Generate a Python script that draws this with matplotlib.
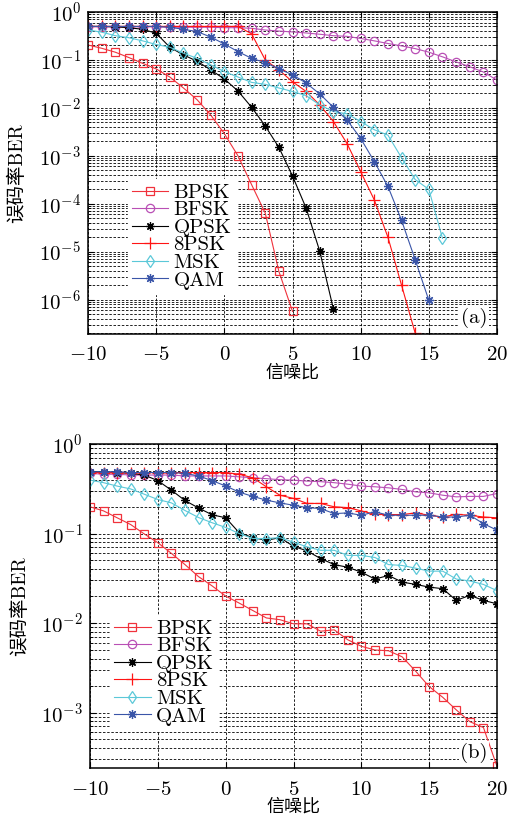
import matplotlib
matplotlib.use('Agg')
import matplotlib.pyplot as plt
from matplotlib.ticker import LogLocator, NullFormatter

# fonts: Computer Modern for latin/numbers, Noto CJK for the chinese labels
plt.rcParams['font.family'] = ['cmr10', 'Noto Sans CJK SC']
plt.rcParams['mathtext.fontset'] = 'cm'
plt.rcParams['axes.formatter.use_mathtext'] = True
plt.rcParams['font.size'] = 15

snr = list(range(-10, 21))
labels = ['BPSK', 'BFSK', 'QPSK', '8PSK', 'MSK', 'QAM']

# ---- panel (a) ----
bpsk_a = [0.205, 0.175, 0.145, 0.112, 0.085, 0.065, 0.044, 0.026, 0.0148, 0.0071,
          0.0029, 0.001, 2.5e-4, 6.4e-5, 3.9e-6, 5.7e-7]
bfsk_a = [0.49, 0.49, 0.49, 0.49, 0.49, 0.49, 0.48, 0.48, 0.48, 0.48, 0.47, 0.47,
          0.457, 0.42, 0.40, 0.383, 0.365, 0.343, 0.32, 0.31, 0.28, 0.25, 0.22,
          0.196, 0.172, 0.145, 0.116, 0.091, 0.072, 0.056, 0.038]
qpsk_a = [0.5, 0.5, 0.49, 0.47, 0.435, 0.36, 0.184, 0.127, 0.094, 0.062, 0.04,
          0.0225, 0.0103, 0.0042, 0.0015, 3.8e-4, 8.1e-5, 1.02e-5, 6.4e-7]
psk8_a = [0.5, 0.5, 0.5, 0.5, 0.5, 0.5, 0.5, 0.5, 0.5, 0.5, 0.5, 0.5, 0.35, 0.1,
          0.062, 0.035, 0.022, 0.0115, 0.0052, 0.0018, 4.7e-4, 1.2e-4, 2.0e-5,
          2.0e-6, 2.0e-7]
msk_a = [0.42, 0.38, 0.32, 0.29, 0.25, 0.21, 0.184, 0.138, 0.108, 0.079, 0.057,
         0.044, 0.034, 0.031, 0.026, 0.022, 0.018, 0.0115, 0.0084, 0.0075, 0.0052,
         0.0035, 0.0027, 9.1e-4, 3.2e-4, 2.0e-4, 1.9e-5]
qam_a = [0.5, 0.5, 0.5, 0.5, 0.5, 0.5, 0.48, 0.435, 0.39, 0.30, 0.215, 0.149,
         0.108, 0.088, 0.065, 0.049, 0.033, 0.0195, 0.0103, 0.0056, 0.0023,
         7.6e-4, 2.3e-4, 4.5e-5, 6.8e-6, 9.7e-7]

# ---- panel (b) ----
bpsk_b = [0.199, 0.179, 0.15, 0.126, 0.099, 0.079, 0.060, 0.045, 0.033, 0.026,
          0.020, 0.0167, 0.0138, 0.0114, 0.0109, 0.0098, 0.0098, 0.0081, 0.0084,
          0.0065, 0.0055, 0.0050, 0.0049, 0.0042, 0.0029, 0.00195, 0.00148,
          0.00107, 7.9e-4, 6.8e-4, 2.5e-4]
bfsk_b = [0.47, 0.46, 0.46, 0.45, 0.45, 0.45, 0.45, 0.44, 0.44, 0.44, 0.44, 0.43,
          0.42, 0.41, 0.40, 0.395, 0.385, 0.38, 0.37, 0.356, 0.339, 0.333, 0.324,
          0.311, 0.292, 0.285, 0.268, 0.257, 0.26, 0.26, 0.28]
qpsk_b = [0.49, 0.49, 0.48, 0.47, 0.45, 0.39, 0.305, 0.234, 0.193, 0.162, 0.150,
          0.102, 0.090, 0.084, 0.090, 0.072, 0.064, 0.0525, 0.045, 0.042, 0.037,
          0.031, 0.034, 0.0287, 0.027, 0.0252, 0.0242, 0.0179, 0.0204, 0.0179, 0.0164]
psk8_b = [0.48, 0.48, 0.48, 0.48, 0.48, 0.48, 0.48, 0.48, 0.48, 0.48, 0.48, 0.46,
          0.42, 0.333, 0.268, 0.247, 0.217, 0.217, 0.199, 0.195, 0.179, 0.164,
          0.163, 0.163, 0.170, 0.160, 0.153, 0.164, 0.160, 0.153, 0.150]
msk_b = [0.395, 0.37, 0.339, 0.315, 0.275, 0.24, 0.22, 0.181, 0.151, 0.132, 0.117,
         0.10, 0.088, 0.088, 0.090, 0.080, 0.071, 0.065, 0.065, 0.057, 0.057, 0.054,
         0.045, 0.044, 0.041, 0.038, 0.038, 0.031, 0.0295, 0.027, 0.023]
qam_b = [0.49, 0.49, 0.49, 0.48, 0.48, 0.48, 0.48, 0.47, 0.44, 0.39, 0.34, 0.29,
         0.26, 0.236, 0.22, 0.207, 0.195, 0.19, 0.167, 0.17, 0.160, 0.175, 0.160,
         0.160, 0.16, 0.16, 0.153, 0.153, 0.16, 0.129, 0.109]

# styles (color, marker, markersize) in legend order
styles = [('#F0323C', 's', 6),
          ('#B94FB5', 'o', 6),
          ('black', (8, 2, 0), 6),
          ('#FF1414', '+', 8),
          ('#5BC8D8', 'd', 6.5),
          ('#3A55A8', (8, 2, 0), 6.5)]


def draw(ax, series, ylim, tag, tag_pos, leg_anchor):
    for vals, lab, (col, mk, ms) in zip(series, labels, styles):
        ax.plot(snr[:len(vals)], vals, color=col, marker=mk, ms=ms, lw=0.8,
                mfc='none', mec=col, mew=0.9, label=lab)
    ax.set_yscale('log')
    ax.set_xlim(-10, 20)
    ax.set_ylim(*ylim)
    ax.set_xticks([-10, -5, 0, 5, 10, 15, 20])
    ax.yaxis.set_major_locator(LogLocator(base=10, numticks=20))
    ax.yaxis.set_minor_locator(LogLocator(base=10, subs=range(2, 10), numticks=20))
    ax.yaxis.set_minor_formatter(NullFormatter())
    ax.grid(True, which='major', ls=(0, (3, 2)), color='black', lw=0.6)
    ax.grid(True, which='minor', axis='y', ls=(0, (3, 2)), color='black', lw=0.6)
    ax.tick_params(which='both', direction='in', top=True, right=True)
    ax.tick_params(which='major', length=4)
    ax.tick_params(which='minor', length=2)
    ax.tick_params(axis='x', pad=9)
    ax.tick_params(axis='y', pad=5)
    for sp in ax.spines.values():
        sp.set_linewidth(1.1)
    ax.set_xlabel('信噪比', fontsize=13, labelpad=0)
    ax.set_ylabel('误码率BER', fontsize=14, labelpad=9)
    leg = ax.legend(loc='upper left', bbox_to_anchor=leg_anchor, borderaxespad=0,
                    handlelength=1.75, handletextpad=0.25, labelspacing=-0.05,
                    borderpad=0.2, fancybox=False, framealpha=1, fontsize=15)
    leg.get_frame().set_edgecolor('white')
    ax.text(tag_pos[0], tag_pos[1], tag, transform=ax.transAxes, ha='center',
            va='center', fontsize=15,
            bbox=dict(facecolor='white', edgecolor='none', pad=1))


fig = plt.figure(figsize=(5.07, 8.14), dpi=100)
ax1 = fig.add_axes([0.1736, 0.5897, 0.8067, 0.3956])
ax2 = fig.add_axes([0.1775, 0.0565, 0.8028, 0.398])

draw(ax1, [bpsk_a, bfsk_a, qpsk_a, psk8_a, msk_a, qam_a], (1.93e-7, 1), '(a)',
     (0.944, 0.05), (0.097, 0.481))
draw(ax2, [bpsk_b, bfsk_b, qpsk_b, psk8_b, msk_b, qam_b], (2.4e-4, 1), '(b)',
     (0.943, 0.048), (0.049, 0.472))

fig.savefig('out.png', dpi=100)
